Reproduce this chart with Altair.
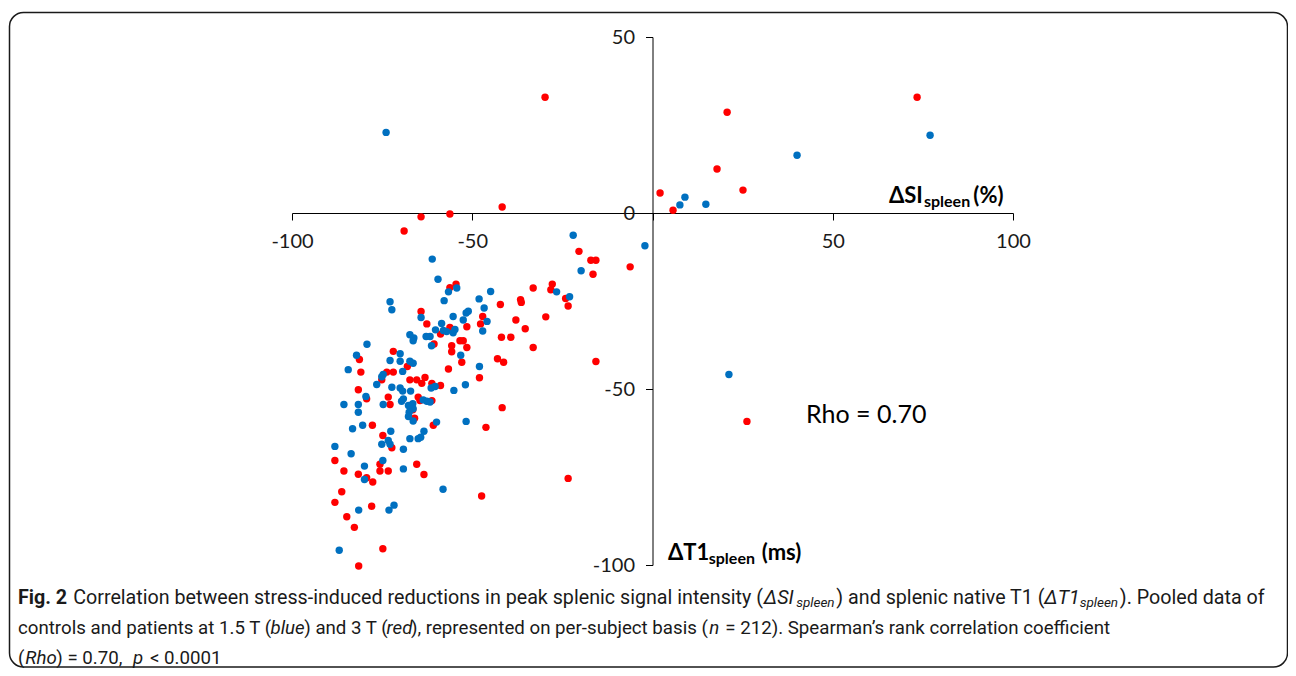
import altair as alt
import pandas as pd

# ---------------- data ----------------
blue_x = [-73.9, 7.6, 9.0, 14.8, 40.1, 77.0, -2.1, 21.2, -22.0, -19.8,
          -26.6, -23.0, -44.9, -48.1, -46.7, -51.1, -51.7, -52.5, -45.9, -47.1,
          -61.1, -59.5, -56.6, -54.3, -57.8, -72.8, -72.3, -64.2, -58.5, -55.3,
          -60.2, -58.0, -67.3, -66.2, -66.4, -62.8, -61.7, -57.1, -55.3, -54.8,
          -61.3, -53.2, -48.0, -51.9, -51.7, -79.2, -82.1, -70.0, -72.8, -70.0,
          -67.3, -66.4, -84.4, -74.7, -75.1, -69.3, -76.5, -72.3, -70.0, -69.3,
          -67.1, -61.4, -60.3, -55.1, -79.5, -74.7, -81.6, -85.6, -69.6, -69.1,
          -67.7, -66.5, -66.4, -63.6, -62.6, -61.7, -81.6, -67.5, -67.7, -66.4,
          -59.9, -83.2, -80.4, -72.6, -67.3, -65.0, -64.3, -63.4, -73.3, -72.8,
          -88.1, -69.1, -83.6, -79.9, -79.9, -74.8, -75.1, -69.1, -58.1, -81.5,
          -73.1, -71.7, -86.9]
blue_y = [22.9, 2.3, 4.5, 2.5, 16.4, 22.1, -9.3, -45.9, -6.3, -16.4,
          -22.4, -23.8, -22.3, -24.4, -27.0, -27.9, -28.4, -30.4, -30.8, -33.5,
          -13.1, -18.8, -22.4, -21.3, -24.9, -25.2, -27.5, -29.7, -31.4, -29.4,
          -33.2, -33.4, -34.6, -35.5, -36.3, -35.1, -35.1, -33.7, -34.0, -33.1,
          -37.7, -40.4, -43.6, -48.8, -59.2, -37.3, -40.4, -40.0, -41.9, -42.1,
          -42.1, -42.7, -44.5, -45.9, -46.5, -45.0, -48.7, -49.5, -49.7, -50.6,
          -50.6, -49.7, -49.3, -50.4, -52.1, -54.4, -54.4, -54.4, -53.5, -52.8,
          -54.7, -54.2, -55.6, -53.1, -53.5, -53.7, -56.6, -56.6, -57.8, -59.1,
          -59.4, -61.3, -60.3, -62.0, -64.1, -64.1, -63.7, -62.0, -64.6, -65.7,
          -66.3, -67.1, -68.4, -71.9, -75.7, -70.3, -65.7, -72.7, -78.5, -84.4,
          -84.4, -83.0, -95.8]

red_x = [-29.8, -41.7, -56.2, -64.2, -68.9, 2.1, 5.7, 17.9, 20.7, 25.1,
         73.4, 26.2, -6.2, -15.7, -23.4, -20.4, -17.1, -15.7, -16.5, -33.1,
         -27.8, -28.2, -24.1, -23.4, -42.2, -36.6, -36.4, -47.1, -47.7, -51.5,
         -37.9, -35.3, -29.6, -41.9, -39.3, -52.5, -53.4, -51.5, -33.1, -43.0,
         -41.3, -52.9, -48.0, -41.7, -46.2, -47.4, -56.2, -54.5, -64.2, -62.6,
         -56.2, -58.8, -60.6, -55.7, -55.7, -56.6, -81.3, -71.9, -73.7, -71.9,
         -80.9, -68.0, -75.1, -67.3, -65.4, -63.1, -64.0, -61.2, -58.8, -81.6,
         -79.3, -73.3, -72.8, -65.0, -64.5, -61.2, -66.5, -66.0, -60.8, -77.7,
         -74.8, -72.3, -88.1, -85.6, -81.6, -79.3, -77.6, -75.6, -75.6, -73.3,
         -65.4, -63.4, -86.2, -88.1, -77.9, -84.8, -82.7, -74.8, -81.5]
red_y = [32.9, 1.7, -0.3, -1.1, -5.1, 5.7, 0.8, 12.5, 28.6, 6.5,
         32.9, -59.2, -15.3, -42.2, -75.4, -10.9, -13.4, -13.4, -17.4, -21.3,
         -20.2, -21.8, -24.3, -26.4, -26.0, -24.6, -25.4, -29.4, -31.5, -32.3,
         -30.4, -32.9, -29.5, -35.3, -35.3, -36.3, -36.3, -38.2, -38.2, -41.4,
         -42.4, -42.4, -46.8, -55.3, -60.9, -80.4, -21.2, -20.2, -28.0, -31.5,
         -32.5, -34.4, -37.2, -37.7, -39.4, -44.3, -41.6, -39.3, -45.2, -45.2,
         -45.2, -43.6, -47.4, -47.4, -47.4, -46.7, -48.4, -48.4, -49.0, -50.2,
         -52.8, -52.3, -54.4, -52.3, -53.3, -53.3, -55.9, -58.3, -60.3, -60.3,
         -63.2, -66.7, -70.3, -73.3, -74.2, -75.2, -76.4, -71.4, -73.3, -73.3,
         -71.4, -74.3, -79.2, -82.2, -83.3, -86.3, -89.3, -95.4, -100.3]

series_names = ["3 T", "1.5 T"]
series_colors = ["#FF0000", "#0070C0"]
x_ticks = [-100, -50, 0, 50, 100]
y_ticks = [-100, -50, 0, 50]
rho_label = "Rho = 0.70"

# ---------------- layout ----------------
W, H = 721, 528
PAD_L, PAD_T = 284, 29
CANVAS_W, CANVAS_H = 1280, 660
OX, OY = PAD_L + 8, PAD_T + 8   # page position of plot origin

CHART_FONT = "Lato"
CAP_FONT = "Roboto"
SUB_SIZE = 13.5

df = pd.DataFrame({
    "x": red_x + blue_x,
    "y": red_y + blue_y,
    "series": ["3 T"] * len(red_x) + ["1.5 T"] * len(blue_x),
})

xscale = alt.Scale(domain=[-100, 100], nice=False, zero=False)
yscale = alt.Scale(domain=[-100, 50], nice=False, zero=False)

points = alt.Chart(df).mark_circle(size=55, opacity=1).encode(
    x=alt.X("x:Q", scale=xscale,
            axis=alt.Axis(values=x_ticks, offset=-352, title="", grid=False,
                          labelExpr="datum.value == 0 ? '' : toString(datum.value)",
                          labelFlush=False, labelOverlap=False,
                          tickSize=7, labelPadding=11)),
    y=alt.Y("y:Q", scale=yscale,
            axis=alt.Axis(values=y_ticks, offset=-360.5, title="", grid=False,
                          labelExpr="toString(datum.value)",
                          labelOverlap=False, tickSize=7, labelPadding=11)),
    color=alt.Color("series:N", scale=alt.Scale(domain=series_names, range=series_colors), legend=None),
)

def dtext(t, x, y, size, weight="normal", align="left", baseline="alphabetic", style="normal"):
    d = pd.DataFrame({"x": [x], "y": [y], "t": [t]})
    return alt.Chart(d).mark_text(
        font=CHART_FONT, fontSize=size, fontWeight=weight, align=align,
        baseline=baseline, fontStyle=style, color="#000000"
    ).encode(x=alt.X("x:Q", scale=xscale), y=alt.Y("y:Q", scale=yscale), text="t:N")

annotations = [
    dtext("ΔSI", 75.0, 2.8, 22, "bold", "right"),
    dtext("spleen", 75.3, 1.8, 16, "bold", "left"),
    dtext("(%)", 89.0, 2.8, 22, "bold", "left"),
    dtext("ΔT1", 4.3, -98.6, 22, "bold", "left"),
    dtext("spleen", 15.6, -99.7, 16, "bold", "left"),
    dtext("(ms)", 30.3, -98.6, 22, "bold", "left"),
    dtext(rho_label, 42.6, -57.5, 25, "normal", "left", "middle"),
]

# caption segments: (text, kind, approximate width in em) chained left to right
caption_lines = [
    (598, 19.7, [("Fig. 2", "bold", 2.45), ("Correlation between stress-induced reductions in peak splenic signal intensity (", "normal", 35.0),
           ("ΔSI", "italic", 1.6), ("spleen", "sub", 2.9), (") and splenic native T1 (", "normal", 10.5),
           ("ΔT1", "italic", 1.75), ("spleen", "sub", 2.9), ("). Pooled data of", "normal", 7.3)]),
    (628, 18.7, [("controls and patients at 1.5 T (", "normal", 13.45), ("blue", "italic", 1.75), (") and 3 T (", "normal", 4.35),
           ("red", "italic", 1.25), ("), represented on per-subject basis (", "normal", 15.9), ("n", "italic", 0.55),
           ("= 212). Spearman’s rank correlation coefficient", "normal", 20.6)]),
    (658, 18.7, [("(", "normal", 0.34), ("Rho", "italic", 1.6), (") = 0.70,", "normal", 3.95), ("p", "italic", 0.6),
           ("< 0.0001", "normal", 3.7)]),
]
gap_after = {"Fig. 2": 0.3, ") = 0.70,": 0.1, "n": 0.25, "p": 0.25}

one = pd.DataFrame({"k": [0]})
cap_layers = []
for py, fsize, segs in caption_lines:
    px = 18.0
    for text, kind, em in segs:
        kw = dict(font=CAP_FONT, fontSize=fsize, align="left", baseline="middle", color="#1a1a1a")
        yy = py
        if kind == "bold":
            kw["fontWeight"] = "bold"
        if kind in ("italic", "sub"):
            kw["fontStyle"] = "italic"
        if kind == "sub":
            kw["fontSize"] = SUB_SIZE
            yy = py + 5
        cap_layers.append(
            alt.Chart(one).mark_text(**kw).encode(
                x=alt.value(px - OX), y=alt.value(yy - OY), text=alt.value(text))
        )
        w = em * (SUB_SIZE if kind == "sub" else fsize)
        px += w + gap_after.get(text, 0.0) * fsize + 1

border = alt.Chart(one).mark_rect(
    fillOpacity=0, stroke="#1a1a1a", strokeWidth=1.5, cornerRadius=14
).encode(
    x=alt.value(9.5 - OX), x2=alt.value(1287.5 - OX),
    y=alt.value(12.5 - OY), y2=alt.value(667 - OY)
)

chart = alt.layer(border, points, *annotations, *cap_layers).properties(
    width=W, height=H,
    autosize=alt.AutoSizeParams(type="none"),
    padding={"left": PAD_L, "top": PAD_T, "right": CANVAS_W - PAD_L - W, "bottom": CANVAS_H - PAD_T - H},
).configure_view(strokeWidth=0).configure_axis(
    domainColor="#000000", tickColor="#000000", domainWidth=1, tickWidth=1,
    labelFont=CHART_FONT, labelFontSize=20, labelColor="#1a1a1a",
)

chart.save("out.html", embed_options={"renderer": "svg", "actions": False})
